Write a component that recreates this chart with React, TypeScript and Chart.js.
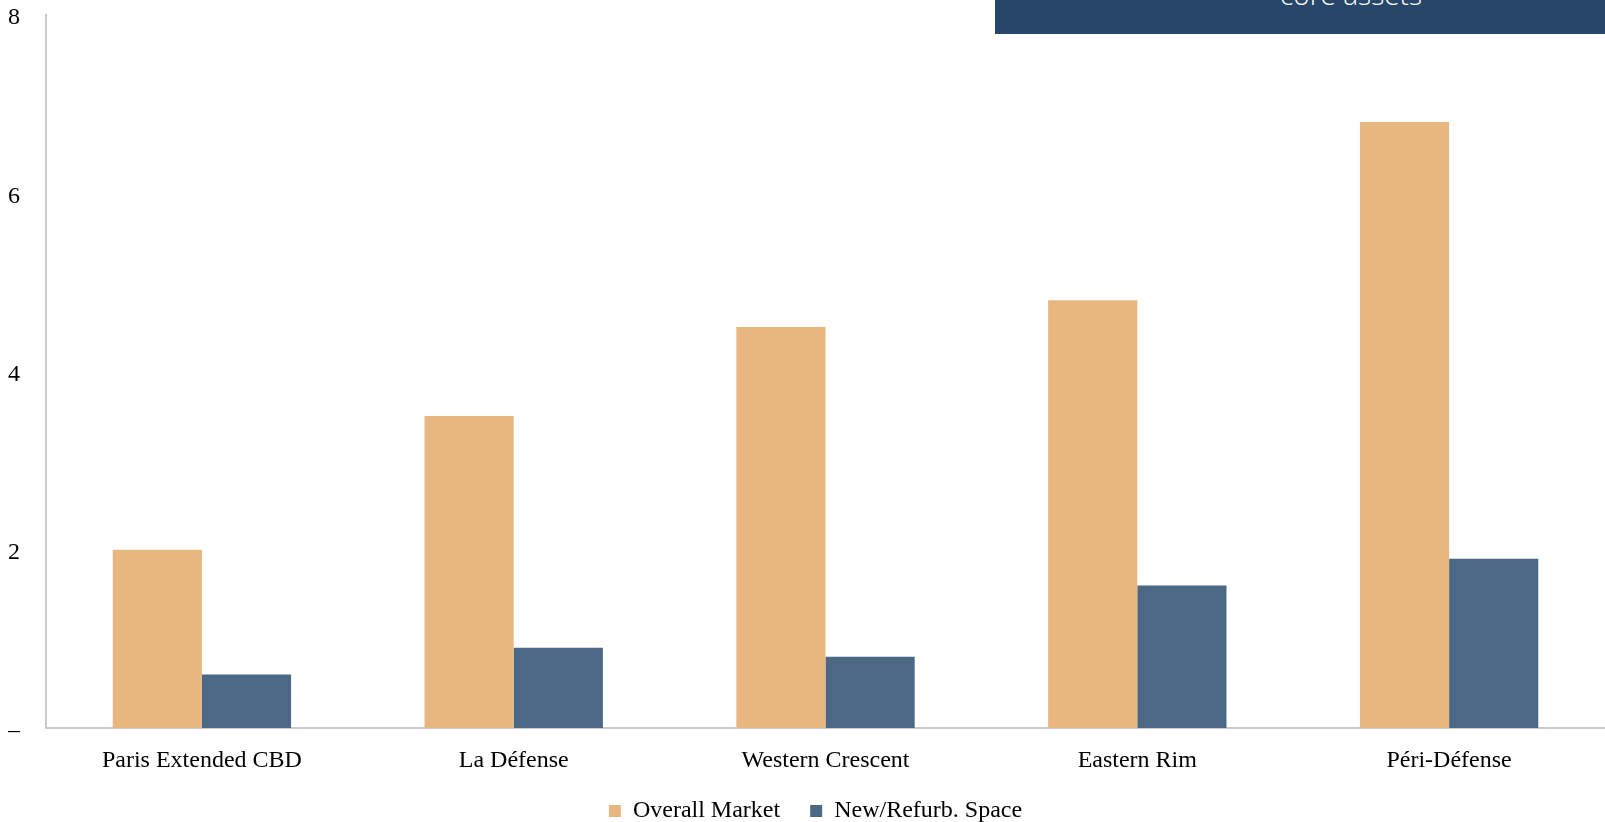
import React, { useEffect, useRef } from "react";
import { Chart, registerables } from "chart.js";

Chart.register(...registerables);

const categories = ["Paris Extended CBD", "La Défense", "Western Crescent", "Eastern Rim", "Péri-Défense"];
const overallMarket = [2.0, 3.5, 4.5, 4.8, 6.8];
const newRefurbSpace = [0.6, 0.9, 0.8, 1.6, 1.9];
const seriesNames = ["Overall Market", "New/Refurb. Space"];
const bannerText = "core assets";

const ORANGE = "#E8B77F";
const BLUE = "#4B6884";
const NAVY = "#27466A";
const AXIS = "#C9C9C9";
const SERIF = "'Liberation Serif', 'Times New Roman', serif";

// Nudges the centred legend row a little to the right, under the plot area.
const legendNudge = {
  id: "legendNudge",
  afterLayout(chart: any) {
    const lg = chart.legend;
    if (lg) {
      lg.left += 9;
      lg.right += 9;
    }
  },
};

export default function App() {
  const canvasRef = useRef<HTMLCanvasElement | null>(null);

  useEffect(() => {
    document.body.style.margin = "0";
    const ctx = canvasRef.current;
    if (!ctx) return;
    const chart = new Chart(ctx, {
      type: "bar",
      data: {
        labels: categories,
        datasets: [
          { label: seriesNames[0], data: overallMarket, backgroundColor: ORANGE, borderWidth: 0 },
          { label: seriesNames[1], data: newRefurbSpace, backgroundColor: BLUE, borderWidth: 0 },
        ],
      },
      options: {
        animation: false,
        responsive: true,
        maintainAspectRatio: false,
        layout: { padding: { top: 0, left: 8, right: 0, bottom: 0 } },
        datasets: { bar: { categoryPercentage: 0.572, barPercentage: 1.0 } },
        plugins: {
          legend: {
            position: "bottom",
            labels: {
              boxWidth: 12,
              boxHeight: 12,
              padding: 30,
              color: "#000",
              font: { family: SERIF, size: 24 },
            },
          },
          tooltip: { enabled: false },
        },
        scales: {
          x: {
            grid: { display: false, drawTicks: false },
            border: { color: AXIS, width: 2 },
            ticks: { color: "#000", font: { family: SERIF, size: 24 }, padding: 18, maxRotation: 0 },
            afterFit: (scale: any) => {
              scale.height = 41;
            },
          },
          y: {
            min: 0,
            max: 8,
            grid: { display: false, drawTicks: false },
            border: { color: AXIS, width: 2 },
            ticks: {
              stepSize: 2,
              color: "#000",
              padding: 26,
              labelOffset: 3,
              font: { family: SERIF, size: 24 },
              callback: (v: any) => (Number(v) === 0 ? "–" : String(v)),
            },
            afterFit: (scale: any) => {
              scale.width = 38;
              scale.paddingTop = 15;
              scale.paddingBottom = 0;
            },
          },
        },
      },
      plugins: [legendNudge],
    });
    return () => chart.destroy();
  }, []);

  return (
    <div style={{ position: "fixed", left: 0, top: 0, width: 1605, height: 822, background: "#fff", overflow: "hidden" }}>
      <div style={{ position: "absolute", left: 0, top: 0, width: 1605, height: 833 }}>
        <canvas ref={canvasRef} />
      </div>
      <div
        style={{
          position: "absolute",
          left: 995,
          top: 0,
          width: 610,
          height: 34,
          background: NAVY,
          overflow: "hidden",
        }}
      >
        <div
          style={{
            position: "absolute",
            left: 285,
            top: -24,
            color: "#fff",
            fontFamily: "'Open Sans', sans-serif",
            fontWeight: 300,
            fontSize: 28,
            lineHeight: "36px",
            whiteSpace: "nowrap",
          }}
        >
          {bannerText}
        </div>
      </div>
    </div>
  );
}
